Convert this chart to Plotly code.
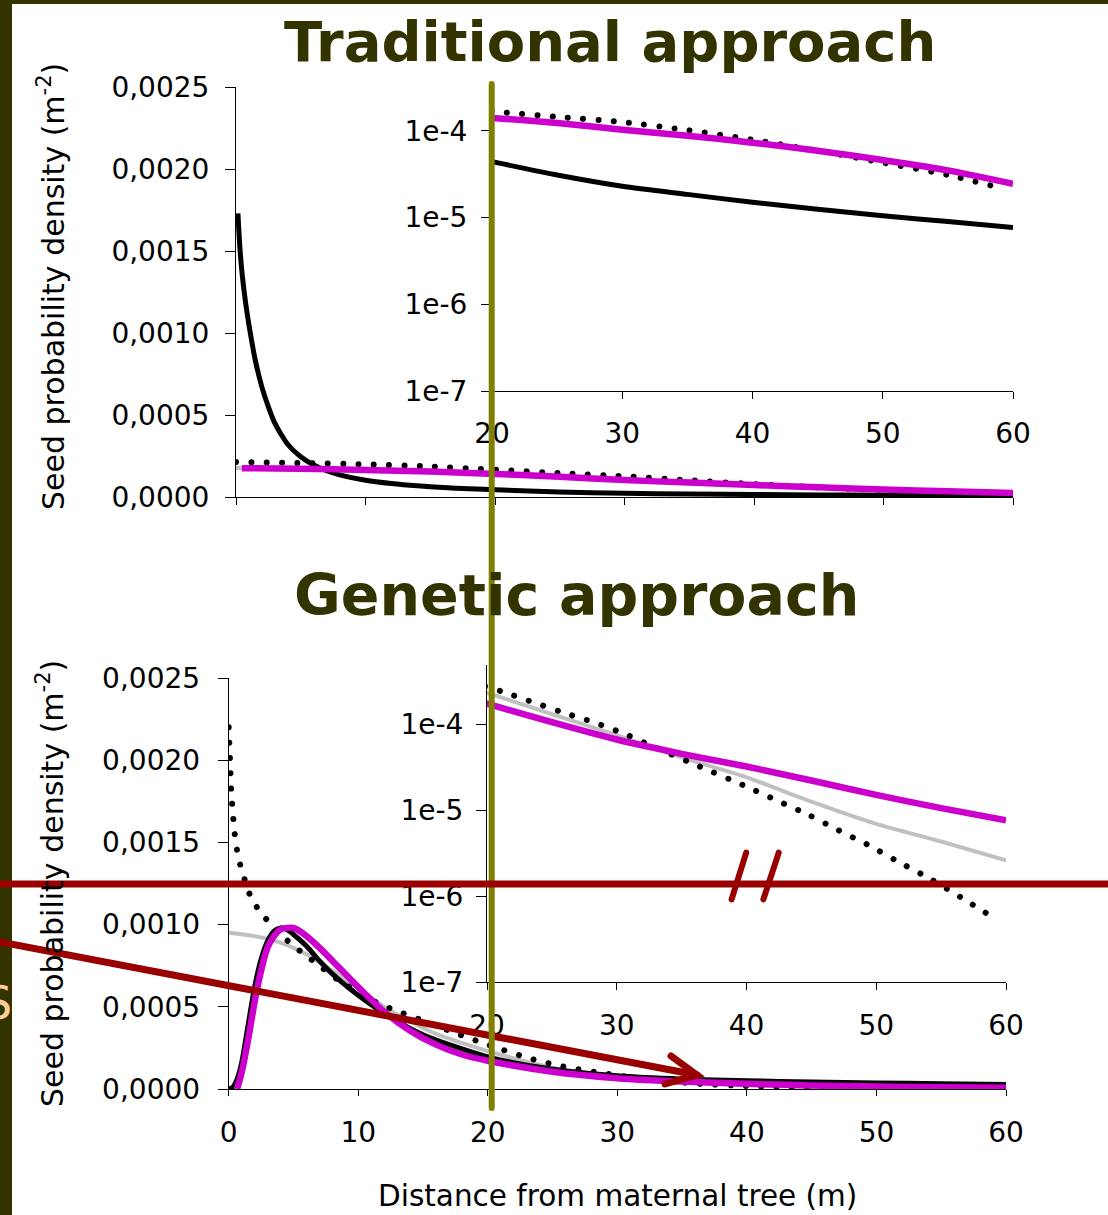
import plotly.graph_objects as go

# ---------------- data ----------------
# Traditional approach
t_black_x = [0.15, 0.3, 0.5, 0.75, 1.0, 1.5, 2.0, 2.5, 3.0, 3.5, 4.0, 5.0, 6.0, 7.0, 8.0, 10, 12, 14, 16, 18, 20, 25, 30, 35, 40, 45, 50, 55, 60]
t_black_y = [1.73e-3, 1.52e-3, 1.34e-3, 1.18e-3, 1.05e-3, 0.83e-3, 0.67e-3, 0.55e-3, 0.45e-3, 0.38e-3, 0.32e-3, 0.245e-3,
             0.195e-3, 0.16e-3, 0.135e-3, 0.102e-3, 0.082e-3, 0.068e-3, 0.058e-3, 0.050e-3, 4.4e-5, 3.1e-5, 2.3e-5,
             1.85e-5, 1.5e-5, 1.25e-5, 1.05e-5, 9.0e-6, 7.7e-6]
t_dot_x = [0, 5, 10, 15, 20, 25, 30, 35, 40, 45, 50, 55, 59]
t_dot_y = [2.13e-4, 2.07e-4, 1.99e-4, 1.86e-4, 1.67e-4, 1.45e-4, 1.26e-4, 1.02e-4, 7.9e-5, 5.9e-5, 4.3e-5, 3.1e-5, 2.2e-5]
t_mag_x = [0.45, 5, 10, 15, 20, 25, 30, 35, 40, 45, 50, 55, 60]
t_mag_y = [1.76e-4, 1.72e-4, 1.65e-4, 1.55e-4, 1.41e-4, 1.23e-4, 1.03e-4, 8.8e-5, 7.3e-5, 5.9e-5, 4.6e-5, 3.5e-5, 2.45e-5]
t_gray_x = [0, 10, 20, 30, 40, 50, 60]
t_gray_y = [1.77e-4, 1.65e-4, 1.41e-4, 1.03e-4, 7.3e-5, 4.6e-5, 2.45e-5]

# Genetic approach
b_dot_x = [0, 0.05, 0.1, 0.15, 0.2, 0.3, 0.45, 0.65, 0.9, 1.25, 1.7, 2.4, 3.4, 4.5, 5.5, 7, 8.5, 10, 11.3, 12.8,
           15.2, 17.5, 19.6, 21.1, 23.5, 25.8, 28.2, 30.5, 33, 36.4, 39.9, 42.3, 44.7, 47, 49.4, 51.7, 54.1, 56.5, 58.8]
b_dot_y = [2.2e-3, 2.1e-3, 2.0e-3, 1.9e-3, 1.8e-3, 1.7e-3, 1.56e-3, 1.45e-3, 1.36e-3, 1.27e-3, 1.17e-3, 1.08e-3,
           0.99e-3, 0.905e-3, 0.84e-3, 0.75e-3, 0.66e-3, 0.59e-3, 0.53e-3, 0.48e-3, 0.41e-3, 0.34e-3, 0.28e-3,
           2.4e-4, 1.8e-4, 1.37e-4, 1.05e-4, 7.8e-5, 5.3e-5, 3.2e-5, 1.9e-5, 1.3e-5, 8.9e-6, 5.9e-6, 3.9e-6,
           2.5e-6, 1.6e-6, 9.7e-7, 5.9e-7]
b_black_x = [0, 0.3, 0.6, 1.0, 1.5, 2.0, 2.5, 3.0, 3.5, 4.0, 4.5, 5.0, 6, 7, 8, 10, 12, 15, 20, 25, 30, 35, 40, 45, 50, 55, 60]
b_black_y = [0, 1e-5, 5e-5, 1.6e-4, 3.9e-4, 6.2e-4, 7.9e-4, 9.0e-4, 9.6e-4, 9.8e-4, 9.7e-4, 9.4e-4, 8.7e-4, 7.8e-4,
             7.0e-4, 5.7e-4, 4.6e-4, 3.3e-4, 1.95e-4, 1.2e-4, 8e-5, 6e-5, 5e-5, 4.3e-5, 3.7e-5, 3.2e-5, 2.8e-5]
b_gray_x = [0, 2, 4, 6, 8, 10, 12, 14, 16, 18, 20, 25, 30, 35, 40, 45, 50, 55, 60]
b_gray_y = [9.5e-4, 9.3e-4, 8.9e-4, 8.2e-4, 7.2e-4, 6.1e-4, 5.0e-4, 4.1e-4, 3.35e-4, 2.8e-4, 2.3e-4, 1.3e-4, 7.4e-5,
            4.1e-5, 2.4e-5, 1.25e-5, 6.9e-6, 4.3e-6, 2.6e-6]
b_mag_x = [0.65, 1.0, 1.5, 2.0, 2.5, 3.0, 3.5, 4.0, 4.5, 5.0, 5.5, 6, 7, 8, 10, 12, 14, 16, 18, 20, 25, 30, 35, 40,
           45, 50, 55, 60]
b_mag_y = [0, 1.0e-4, 3.0e-4, 5.3e-4, 7.2e-4, 8.6e-4, 9.3e-4, 9.7e-4, 9.8e-4, 9.8e-4, 9.6e-4, 9.3e-4, 8.6e-4, 7.8e-4,
           6.2e-4, 4.7e-4, 3.55e-4, 2.7e-4, 2.1e-4, 1.72e-4, 1.05e-4, 6.6e-5, 4.5e-5, 3.2e-5, 2.2e-5, 1.5e-5,
           1.05e-5, 7.6e-6]

lin_ticks = [0, 0.0005, 0.0010, 0.0015, 0.0020, 0.0025]
lin_text = ["0,0000", "0,0005", "0,0010", "0,0015", "0,0020", "0,0025"]
log_ticks = [1e-7, 1e-6, 1e-5, 1e-4]
log_text = ["1e-7", "1e-6", "1e-5", "1e-4"]
x_main_ticks = [0, 10, 20, 30, 40, 50, 60]
x_inset_ticks = [20, 30, 40, 50, 60]

# ---------------- styles ----------------
W, H = 1108, 1215
def px(x):
    return x / W
def py(y):
    return 1 - y / H

FONT = "DejaVu Sans"
BLACK = "#000000"
MAG = "#CC00CC"
GRAY = "#C0C0C0"
RED = "#990000"
OLIVE = "#808000"
DARK = "#333300"
DOT = "6px,9px"

fig = go.Figure()

def add_set(xa, ya, series):
    for x, y, color, width, dash in series:
        fig.add_trace(go.Scatter(x=x, y=y, mode="lines", xaxis=xa, yaxis=ya,
                                 line=dict(color=color, width=width, dash=dash,
                                           shape="spline", smoothing=0.7),
                                 showlegend=False, hoverinfo="skip"))

top_series = [
    (t_gray_x, t_gray_y, GRAY, 4, "solid"),
    (t_black_x, t_black_y, BLACK, 5, "solid"),
    (t_dot_x, t_dot_y, BLACK, 6, DOT),
    (t_mag_x, t_mag_y, MAG, 6.5, "solid"),
]
add_set("x", "y", top_series)
add_set("x2", "y2", top_series)

bot_main = [
    (b_gray_x, b_gray_y, GRAY, 4, "solid"),
    (b_black_x, b_black_y, BLACK, 5, "solid"),
    (b_dot_x, b_dot_y, BLACK, 6, DOT),
    (b_mag_x, b_mag_y, MAG, 6.5, "solid"),
]
bot_inset = [
    (b_gray_x, b_gray_y, GRAY, 4, "solid"),
    (b_dot_x, b_dot_y, BLACK, 6, DOT),
    (b_mag_x, b_mag_y, MAG, 6.5, "solid"),
]
add_set("x3", "y3", bot_main)
add_set("x4", "y4", bot_inset)

tickfont = dict(family=FONT, size=28, color="black")
common = dict(showline=True, linecolor="black", linewidth=1, showgrid=False, zeroline=False,
              ticks="outside", tickcolor="black", tickwidth=1, tickfont=tickfont, fixedrange=True,
              automargin=False)

fig.update_layout(
    width=W, height=H, margin=dict(l=0, r=0, t=0, b=0, pad=0, autoexpand=False),
    paper_bgcolor="white", plot_bgcolor="rgba(0,0,0,0)",
    xaxis=dict(domain=[px(236), px(1013)], range=[0, 60], anchor="y", tickvals=x_main_ticks,
               showticklabels=False, ticklen=7, **common),
    yaxis=dict(domain=[py(497), py(87)], range=[0, 0.0025], anchor="x", tickvals=lin_ticks,
               ticktext=lin_text, ticklen=10, ticklabelstandoff=10, **common),
    xaxis2=dict(domain=[px(492), px(1013)], range=[20, 60], anchor="y2", tickvals=x_inset_ticks,
                ticklen=7, ticklabelstandoff=10, **common),
    yaxis2=dict(domain=[py(391), py(84)], type="log", range=[-7, -3.46], anchor="x2", tickvals=log_ticks,
                ticktext=log_text, ticklen=10, ticklabelstandoff=8, **common),
    xaxis3=dict(domain=[px(228.7), px(1006)], range=[0, 60], anchor="y3", tickvals=x_main_ticks,
                ticklen=6, ticklabelstandoff=12, **common),
    yaxis3=dict(domain=[py(1089), py(678)], range=[0, 0.0025], anchor="x3", tickvals=lin_ticks,
                ticktext=lin_text, ticklen=10, ticklabelstandoff=12, **common),
    xaxis4=dict(domain=[px(487), px(1006)], range=[20, 60], anchor="y4", tickvals=x_inset_ticks,
                ticklen=7, ticklabelstandoff=11, **common),
    yaxis4=dict(domain=[py(982), py(665)], type="log", range=[-7, -3.314], anchor="x4", tickvals=log_ticks,
                ticktext=log_text, ticklen=10, ticklabelstandoff=7, **common),
)

shapes = []
# slide frame
shapes.append(dict(type="rect", xref="paper", yref="paper", x0=px(0), x1=px(12), y0=py(H), y1=py(0),
                   fillcolor=DARK, line=dict(width=0), layer="above"))
shapes.append(dict(type="rect", xref="paper", yref="paper", x0=px(0), x1=px(W), y0=py(4), y1=py(0),
                   fillcolor=DARK, line=dict(width=0), layer="above"))
# red arrow
shapes.append(dict(type="line", xref="paper", yref="paper", x0=px(0), y0=py(942), x1=px(697), y1=py(1075),
                   line=dict(color=RED, width=7), layer="above"))
shapes.append(dict(type="path", xref="paper", yref="paper",
                   path=f"M {px(671)} {py(1056)} L {px(697)} {py(1075)} L {px(665)} {py(1084)}",
                   line=dict(color=RED, width=7), layer="above"))
# olive vertical marker
shapes.append(dict(type="line", xref="paper", yref="paper", x0=px(491.7), x1=px(491.7), y0=py(84), y1=py(1108),
                   line=dict(color=OLIVE, width=6), layer="above"))
# red horizontal break line and //
shapes.append(dict(type="line", xref="paper", yref="paper", x0=px(0), x1=px(W), y0=py(884), y1=py(884),
                   line=dict(color=RED, width=7), layer="above"))
shapes.append(dict(type="line", xref="paper", yref="paper", x0=px(746.2), y0=py(852.7), x1=px(731.6), y1=py(899.3),
                   line=dict(color=RED, width=6), layer="above"))
shapes.append(dict(type="line", xref="paper", yref="paper", x0=px(778.7), y0=py(852.7), x1=px(763.4), y1=py(899.3),
                   line=dict(color=RED, width=6), layer="above"))
fig.update_layout(shapes=shapes)

ann = []
ann.append(dict(text="<b>Traditional approach</b>", x=px(610), y=py(41), xref="paper", yref="paper",
                showarrow=False, xanchor="center", yanchor="middle",
                font=dict(family=FONT, size=56, color=DARK)))
ann.append(dict(text="<b>Genetic approach</b>", x=px(576), y=py(595), xref="paper", yref="paper",
                showarrow=False, xanchor="center", yanchor="middle",
                font=dict(family=FONT, size=57, color=DARK)))
ytitle = "Seed probability density (m<sup>-2</sup>)"
ann.append(dict(text=ytitle, x=px(51), y=py(287), xref="paper", yref="paper", showarrow=False,
                textangle=-90, xanchor="center", yanchor="middle",
                font=dict(family=FONT, size=30, color="black")))
ann.append(dict(text=ytitle, x=px(51), y=py(884), xref="paper", yref="paper", showarrow=False,
                textangle=-90, xanchor="center", yanchor="middle",
                font=dict(family=FONT, size=30, color="black")))
ann.append(dict(text="Distance from maternal tree (m)", x=px(617), y=py(1196), xref="paper", yref="paper",
                showarrow=False, xanchor="center", yanchor="middle",
                font=dict(family=FONT, size=29.5, color="black")))
ann.append(dict(text="S", x=px(14), y=py(1003), xref="paper", yref="paper", showarrow=False,
                xanchor="right", yanchor="middle",
                font=dict(family=FONT, size=46, color="#FFCC99")))
fig.update_layout(annotations=ann)

# Page tweaks: let the fixed-size figure fill the window (no default body margin),
# and render the dotted series with round dots like the original round-dot line style.
post = """
document.body.style.margin = '0';
document.body.style.padding = '0';
document.documentElement.style.overflow = 'hidden';
document.querySelectorAll('path.js-line').forEach(function(p){
  var d = p.style.strokeDasharray || '';
  if (d.indexOf('6px') === 0) {
    p.style.strokeLinecap = 'round';
    p.style.strokeDasharray = '0.01px, 15.3px';
  }
});
document.querySelectorAll('.shapelayer path').forEach(function(p){
  p.style.strokeLinecap = 'round';
});
"""
fig.write_html("out.html", post_script=post, config={"displayModeBar": False, "staticPlot": True})
